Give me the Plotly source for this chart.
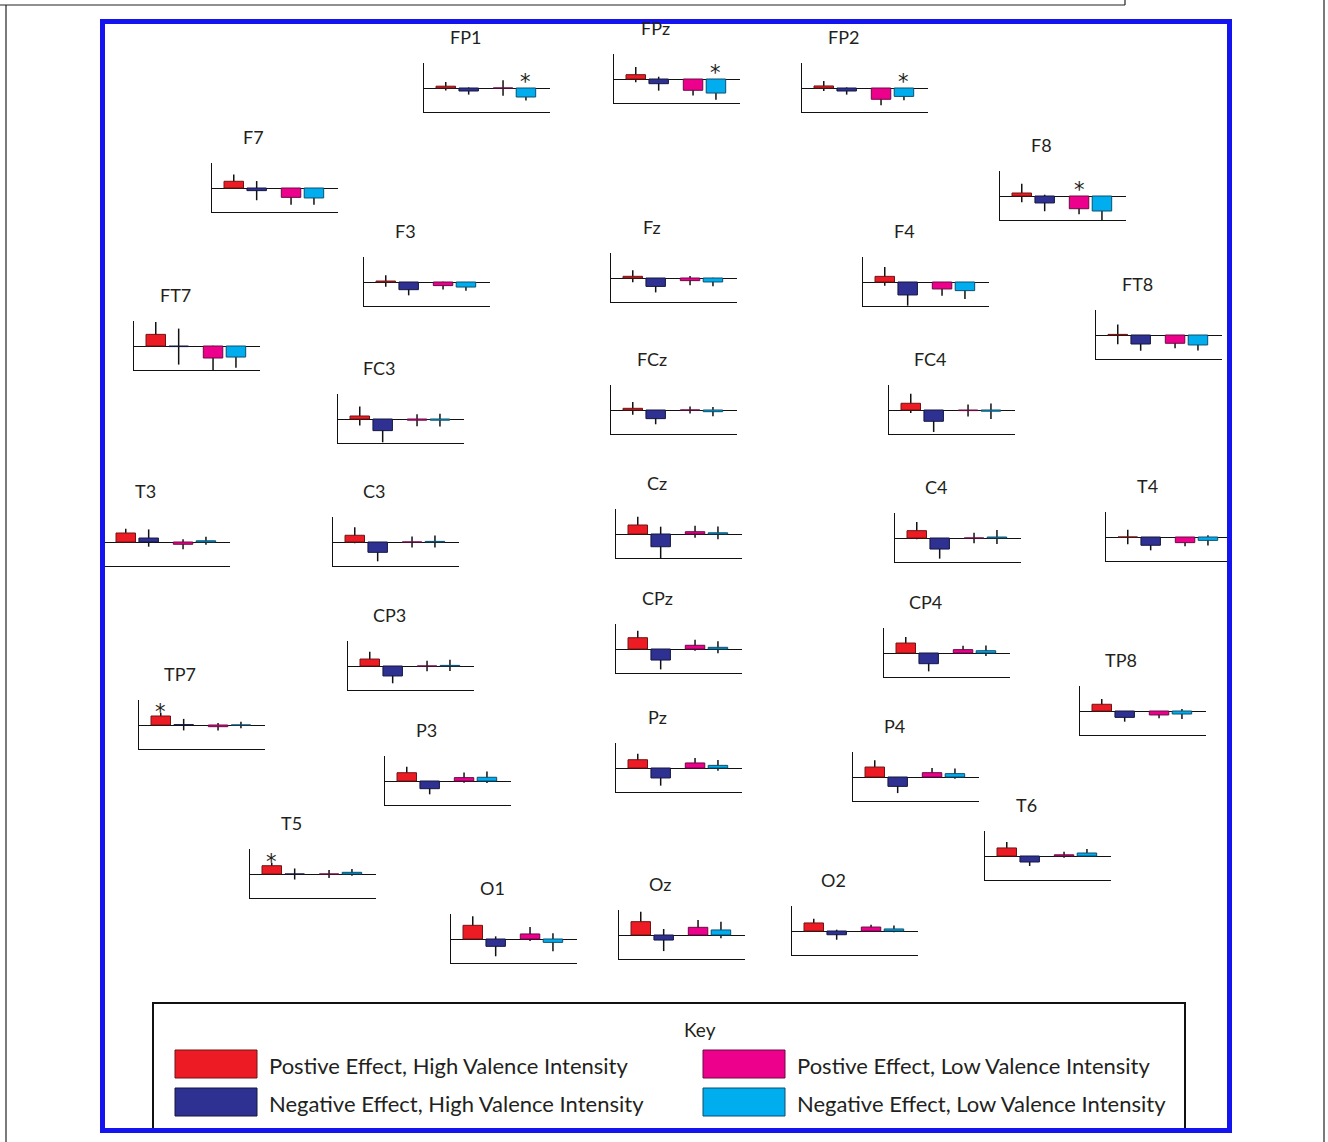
import plotly.graph_objects as go

W, H = 1328, 1142

# ---------------- data ----------------
electrodes = ["FP1", "FPz", "FP2", "F7", "F8", "F3", "Fz", "F4", "FT7", "FT8",
              "FC3", "FCz", "FC4", "T3", "C3", "Cz", "C4", "T4", "CP3", "CPz",
              "CP4", "TP7", "TP8", "P3", "Pz", "P4", "T5", "T6", "O1", "Oz", "O2"]

conditions = ["Postive Effect, High Valence Intensity",
              "Negative Effect, High Valence Intensity",
              "Postive Effect, Low Valence Intensity",
              "Negative Effect, Low Valence Intensity"]

pos_high = [0.15, 0.36, 0.17, 0.56, 0.25, 0.08, 0.14, 0.47, 0.97, 0.05,
            0.25, 0.14, 0.56, 0.75, 0.56, 0.75, 0.61, 0.00, 0.58, 0.94,
            0.83, 0.75, 0.56, 0.69, 0.69, 0.83, 0.69, 0.67, 1.14, 1.11, 0.67]
neg_high = [-0.25, -0.39, -0.25, -0.22, -0.58, -0.64, -0.70, -1.08, -0.05, -0.75,
            -0.97, -0.72, -0.94, 0.33, -0.86, -1.06, -0.92, -0.69, -0.83, -0.92,
            -0.89, 0.03, -0.53, -0.64, -0.83, -0.78, 0.00, -0.50, -0.61, -0.42, -0.31]
pos_low = [0.00, -0.94, -0.94, -0.78, -1.06, -0.30, -0.22, -0.58, -1.00, -0.69,
           -0.10, 0.00, -0.05, -0.19, 0.00, 0.19, 0.00, -0.47, 0.00, 0.31,
           0.28, -0.14, -0.33, 0.28, 0.42, 0.36, 0.00, 0.10, 0.42, 0.64, 0.33]
neg_low = [-0.75, -1.17, -0.70, -0.83, -1.25, -0.42, -0.33, -0.72, -0.92, -0.83,
           -0.10, -0.14, -0.10, 0.10, 0.05, 0.10, 0.08, -0.28, 0.05, 0.14,
           0.19, 0.00, -0.25, 0.31, 0.22, 0.28, 0.14, 0.25, -0.28, 0.42, 0.17]

err_pos_high = [0.35, 0.64, 0.42, 0.56, 0.78, 0.48, 0.50, 0.78, 1.03, 0.83,
                0.79, 0.53, 0.80, 0.36, 0.67, 0.69, 0.72, 0.61, 0.61, 0.58,
                0.50, 0.28, 0.44, 0.50, 0.50, 0.56, 0.25, 0.50, 0.75, 0.83, 0.36]
err_neg_high = [0.30, 0.58, 0.30, 0.80, 0.69, 0.47, 0.50, 0.89, 1.50, 0.56,
                0.97, 0.47, 0.89, 0.72, 0.75, 1.67, 0.80, 0.42, 0.61, 0.78,
                0.64, 0.48, 0.36, 0.47, 0.64, 0.56, 0.46, 0.33, 0.83, 0.92, 0.42]
err_pos_low = [0.65, 0.44, 0.50, 0.61, 0.47, 0.33, 0.39, 0.56, 1.03, 0.42,
               0.50, 0.30, 0.50, 0.42, 0.46, 0.50, 0.44, 0.31, 0.44, 0.46,
               0.33, 0.31, 0.28, 0.42, 0.42, 0.39, 0.33, 0.25, 0.58, 0.61, 0.19]
err_neg_low = [0.30, 0.56, 0.33, 0.56, 0.83, 0.30, 0.36, 0.69, 0.89, 0.47,
               0.53, 0.39, 0.64, 0.33, 0.50, 0.53, 0.58, 0.42, 0.47, 0.50,
               0.44, 0.28, 0.42, 0.48, 0.44, 0.42, 0.28, 0.33, 0.75, 0.69, 0.28]

# significant comparisons (electrode, condition index)
significant = [("FP1", 3), ("FPz", 3), ("FP2", 3), ("F8", 2), ("TP7", 0), ("T5", 0)]

# ---------------- styling / layout ----------------
colors = ["#ED1C24", "#2E3192", "#EC008C", "#00AEEF"]
outlines = ["#6e1414", "#14163f", "#6b0a45", "#0b4f6e"]
FONT = "Lato"
TXT = "#231f20"

# panel placement: left edge of axes (px) and pixel row of zero line
panel_pos = {
    "FP1": (424, 88), "FPz": (614, 79), "FP2": (802, 88),
    "F7": (212, 188), "F8": (1000, 196),
    "F3": (364, 282), "Fz": (611, 278), "F4": (863, 282),
    "FT7": (134, 346), "FT8": (1096, 335),
    "FC3": (338, 419), "FCz": (611, 410), "FC4": (889, 410),
    "T3": (104, 542), "C3": (333, 542), "Cz": (616, 534), "C4": (895, 538), "T4": (1106, 537),
    "CP3": (348, 666), "CPz": (616, 649), "CP4": (884, 653),
    "TP7": (139, 725), "TP8": (1080, 711),
    "P3": (385, 781), "Pz": (616, 768), "P4": (853, 777),
    "T5": (250, 874), "T6": (985, 856),
    "O1": (451, 939), "Oz": (619, 935), "O2": (792, 931),
}
PANEL_W = 126
UP, DOWN = 25, 24
PX_PER_UNIT = 12.0
xpos = [0.95, 1.95, 3.45, 4.45]
XMAX = 5.5
BAR_W = 0.85


def px(x):
    return x / W


def py(y):
    return 1 - y / H


fig = go.Figure()
layout = {}
annotations = []
shapes = []

for i, name in enumerate(electrodes):
    left, zero = panel_pos[name]
    vals = [pos_high[i], neg_high[i], pos_low[i], neg_low[i]]
    errs = [err_pos_high[i], err_neg_high[i], err_pos_low[i], err_neg_low[i]]
    suffix = "" if i == 0 else str(i + 1)
    xa, ya = "x" + suffix, "y" + suffix

    # error bars first (transparent bars) so that coloured bars cover their inner part
    fig.add_trace(go.Bar(
        x=xpos, y=vals, width=BAR_W, xaxis=xa, yaxis=ya,
        marker=dict(color="rgba(0,0,0,0)", line=dict(width=0)),
        error_y=dict(type="data", array=errs, symmetric=True,
                     color="#111111", thickness=1.5, width=0),
        showlegend=False, hoverinfo="skip"))
    fig.add_trace(go.Bar(
        x=xpos, y=vals, width=BAR_W, xaxis=xa, yaxis=ya, name=name,
        marker=dict(color=colors, line=dict(color=outlines, width=1)),
        customdata=conditions, hovertemplate="%{customdata}: %{y}<extra>" + name + "</extra>",
        showlegend=False))

    layout["xaxis" + suffix] = dict(
        domain=[px(left), px(left + PANEL_W)], range=[0, XMAX], anchor=ya,
        showline=True, linecolor="#111111", linewidth=1.3, showticklabels=False,
        ticks="", showgrid=False, zeroline=False, fixedrange=True)
    layout["yaxis" + suffix] = dict(
        domain=[py(zero + DOWN), py(zero - UP)],
        range=[-DOWN / PX_PER_UNIT, UP / PX_PER_UNIT], anchor=xa,
        showline=True, linecolor="#111111", linewidth=1.3, showticklabels=False,
        ticks="", showgrid=False, zeroline=True, zerolinecolor="#111111",
        zerolinewidth=1.3, fixedrange=True)

    annotations.append(dict(
        x=px(left + 41), y=py(zero - 51), xref="paper", yref="paper",
        text=name, showarrow=False, xanchor="center", yanchor="middle",
        font=dict(family=FONT, size=18, color=TXT)))

for name, k in significant:
    i = electrodes.index(name)
    suffix = "" if i == 0 else str(i + 1)
    vals = [pos_high[i], neg_high[i], pos_low[i], neg_low[i]]
    errs = [err_pos_high[i], err_neg_high[i], err_pos_low[i], err_neg_low[i]]
    v, e = vals[k], errs[k]
    top = max(v + e, 0.0)
    annotations.append(dict(
        x=xpos[k], y=top, xref="x" + suffix, yref="y" + suffix,
        text="*", showarrow=False, xanchor="center", yanchor="middle",
        yshift=6 if v < 0 else 1,
        font=dict(family="DejaVu Sans", size=21, color=TXT)))

# ---------------- key ----------------
shapes.append(dict(type="rect", xref="paper", yref="paper",
                   x0=px(153), x1=px(1185), y0=py(1131), y1=py(1003),
                   line=dict(color="#111111", width=2), fillcolor="rgba(0,0,0,0)"))
annotations.append(dict(x=px(700), y=py(1029), xref="paper", yref="paper",
                        text="Key", showarrow=False, xanchor="center", yanchor="middle",
                        font=dict(family=FONT, size=19, color=TXT)))
key_cells = [(175, 1050), (175, 1088), (703, 1050), (703, 1088)]
for (kx, ky), col, oc, label in zip(key_cells, colors, outlines, conditions):
    shapes.append(dict(type="rect", xref="paper", yref="paper",
                       x0=px(kx), x1=px(kx + 82), y0=py(ky + 28), y1=py(ky),
                       line=dict(color=oc, width=1), fillcolor=col))
    annotations.append(dict(x=px(kx + 92), y=py(ky + 15), xref="paper", yref="paper",
                            text=label, showarrow=False, xanchor="left", yanchor="middle",
                            font=dict(family=FONT, size=22, color=TXT)))

# ---------------- page frame lines ----------------
shapes.append(dict(type="line", xref="paper", yref="paper",
                   x0=px(0), x1=px(1125), y0=py(5), y1=py(5),
                   line=dict(color="#222222", width=1.2)))
shapes.append(dict(type="line", xref="paper", yref="paper",
                   x0=px(1125), x1=px(1125), y0=py(0), y1=py(5),
                   line=dict(color="#222222", width=1.2)))
shapes.append(dict(type="line", xref="paper", yref="paper",
                   x0=px(6), x1=px(6), y0=py(5), y1=py(H),
                   line=dict(color="#222222", width=1.2)))
shapes.append(dict(type="line", xref="paper", yref="paper",
                   x0=px(1324), x1=px(1324), y0=py(0), y1=py(H),
                   line=dict(color="#222222", width=1.2)))

# blue outer border
shapes.append(dict(type="rect", xref="paper", yref="paper", layer="above",
                   x0=px(102.5), x1=px(1229.5), y0=py(1130.5), y1=py(21.5),
                   line=dict(color="#1414f0", width=5), fillcolor="rgba(0,0,0,0)"))

fig.update_layout(
    width=W, height=H, margin=dict(l=0, r=0, t=0, b=0),
    paper_bgcolor="white", plot_bgcolor="rgba(0,0,0,0)",
    barmode="overlay", showlegend=False,
    annotations=annotations, shapes=shapes,
    **layout)

fig.write_html("out.html", config={"displayModeBar": False},
               post_script="document.body.style.margin='0';document.body.style.overflow='hidden';")
